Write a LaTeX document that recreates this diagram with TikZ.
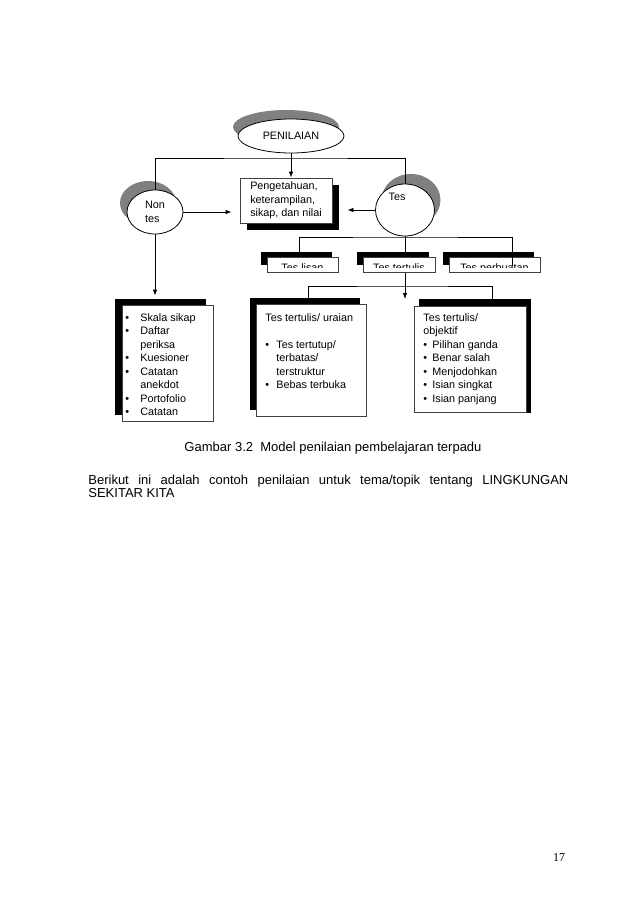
\documentclass[tikz,border=0pt]{standalone}
\usepackage{fontspec}
\setmainfont{Liberation Sans}
\newfontfamily\pagefont{Liberation Serif}
\usetikzlibrary{shapes.geometric,arrows.meta}
\hyphenpenalty=10000
\exhyphenpenalty=10000
\tolerance=9999

\newcommand{\itm}[2]{\makebox[#1][l]{\textbullet}#2}
\newcommand{\cnt}[2]{\makebox[#1]{}#2}

\begin{document}
\begin{tikzpicture}[x=1pt,y=-1pt,line width=0.8pt,
    oval/.style={ellipse,draw,fill=white,inner sep=0pt},
    box/.style={rectangle,draw=black!75,fill=white,inner sep=0pt},
    shd/.style={fill=black},
    ovalshd/.style={fill=gray},
    arr/.style={->,>={Latex[length=6pt,width=4.5pt]}},
    txt/.style={font=\fontsize{10.8}{13.5}\selectfont,inner sep=0pt,align=left},
    lst/.style={txt,anchor=north west},
]
\useasboundingbox (0,0) rectangle (638,903);
\fill[white] (0,0) rectangle (638,903);

% ovals
\fill[ovalshd] (286,127) ellipse [x radius=53pt, y radius=17pt];
\node[oval,minimum width=106pt,minimum height=34pt,txt] (pen) at (291,136) {PENILAIAN};
\fill[ovalshd] (148,203) ellipse [x radius=28pt, y radius=22pt];
\node[oval,minimum width=56pt,minimum height=44pt,txt] (nontes) at (155,212) {Non\\tes};
\fill[ovalshd] (411,200) ellipse [x radius=29.5pt, y radius=26pt];
\node[oval,minimum width=59pt,minimum height=52pt] (tes) at (405,210) {};
\node[txt] (tes-t) at (397,197) {Tes};

% centre box
\node[box,minimum width=92pt,minimum height=45pt] (know) at (286,200.5) {};
\fill[shd] ([shift={(7,7)}]know.north west) rectangle ([shift={(7,7)}]know.south east);
\node[box,minimum width=92pt,minimum height=45pt,txt] (know) at (286,200.5)
    {Pengetahuan,\\keterampilan,\\sikap, dan nilai};

% connectors at the top
\coordinate (top) at (291,158);
\draw (nontes.north) |- (top) -| (tes.north);
\draw[arr] (pen.south) -- (know.north -| pen.south);
\draw[arr,shorten >=8pt] (nontes.east) -- (nontes.east -| know.west);
\draw[arr,shorten >=15pt] (tes.west) -- (tes.west -| know.east);
\draw[arr,shorten >=5pt] (tes.south) -- (tes.south |- 0,304);

% kinds of test
\foreach \n/\x/\w/\t in {lisan/302.5/71/Tes lisan,tertulis/399/72/Tes tertulis,perbuatan/494.5/91/Tes perbuatan}{
    \fill[shd] (\x-\w/2-6,252) rectangle (\x+\w/2-6,265);
    \node[box,minimum width=\w pt,minimum height=15pt] (\n) at (\x,264.5) {};
    \begin{scope}
        \clip ([shift={(0.6,0.6)}]\n.north west) rectangle ([shift={(-0.6,-5)}]\n.south east);
        \node[txt,anchor=base] (\n-t) at ([yshift=1pt]\n.south) {\t};
    \end{scope}
}
\coordinate (split) at (405,237);
\coordinate (sl) at (299,255);
\coordinate (sp) at (512,266);
\draw (sl) |- (split) -| (sp);

% lists
\fill[shd] (115,299) rectangle (206,415);
\node[box,minimum width=91pt,minimum height=116pt] (listA) at (167.5,363) {};
\fill[shd] (250,298) rectangle (360,410);
\node[box,minimum width=110pt,minimum height=112pt] (listB) at (311,360) {};
\fill[shd] (419,299) rectangle (531,413);
\node[box,minimum width=112pt,minimum height=106pt] (listC) at (470,359) {};

\node[lst] (listA-t) at (125,313)
    {\itm{15pt}{Skala sikap}\\\itm{15pt}{Daftar}\\\cnt{15pt}{periksa}\\
     \itm{15pt}{Kuesioner}\\\itm{15pt}{Catatan}\\\cnt{15pt}{anekdot}\\
     \itm{15pt}{Portofolio}\\\itm{15pt}{Catatan}};
\node[lst] (listB-t) at (265,313)
    {Tes tertulis/ uraian\\[13.5pt]\itm{11pt}{Tes tertutup/}\\\cnt{11pt}{terbatas/}\\
     \cnt{11pt}{terstruktur}\\\itm{11pt}{Bebas terbuka}};
\node[lst] (listC-t) at (423,313)
    {Tes tertulis/\\objektif\\\itm{9pt}{Pilihan ganda}\\\itm{9pt}{Benar salah}\\
     \itm{9pt}{Menjodohkan}\\\itm{9pt}{Isian singkat}\\\itm{9pt}{Isian panjang}};

\draw[arr,shorten >=9pt] (nontes.south) -- (nontes.south |- listA.north);
\coordinate (low) at (405,286);
\coordinate (sb) at (308,298);
\coordinate (sc) at (492,299);
\draw (sb) |- (low) -| (sc);

% caption and page text
\node[font=\fontsize{13}{15}\selectfont,anchor=base,inner sep=0pt] (cap) at (333,451)
    {Gambar 3.2\ \ Model penilaian pembelajaran terpadu};
\node[font=\fontsize{13}{13.5}\selectfont,anchor=north west,inner sep=0pt,
      text width=480pt,align=justify] (body) at (88,474.5)
    {Berikut ini adalah contoh penilaian untuk tema/topik tentang LINGKUNGAN SEKITAR KITA};
\node[font=\pagefont\fontsize{12}{14}\selectfont,anchor=base,inner sep=0pt] (page) at (559,861) {17};
\end{tikzpicture}
\end{document}
